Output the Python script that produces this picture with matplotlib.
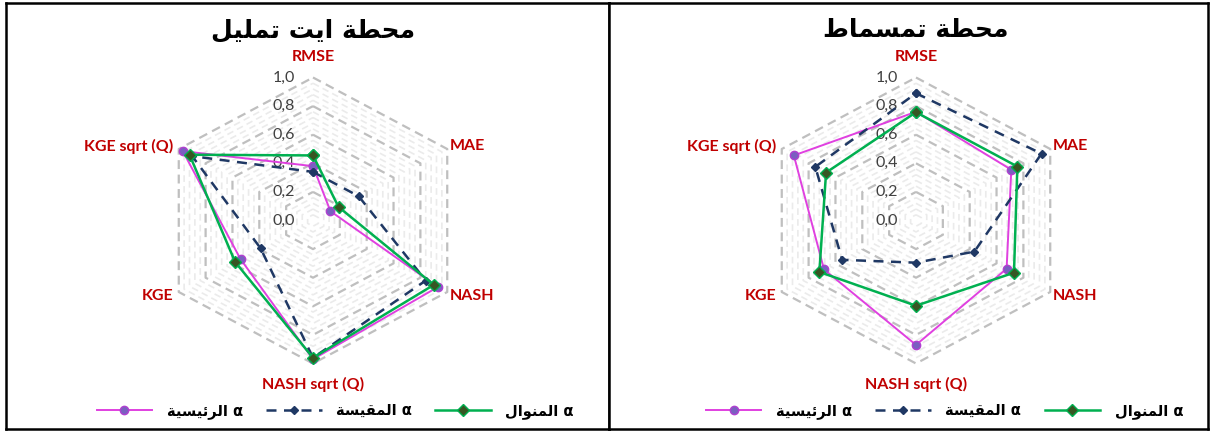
import numpy as np
import matplotlib
matplotlib.use("Agg")
import matplotlib.pyplot as plt

# === data ===
axis_labels = ["RMSE", "MAE", "NASH", "NASH sqrt (Q)", "KGE", "KGE sqrt (Q)"]
tick_values = [0.0, 0.2, 0.4, 0.6, 0.8, 1.0]
tick_labels = ["0,0", "0,2", "0,4", "0,6", "0,8", "1,0"]
series_names = ["α الرئيسية", "α المقيسة", "α المنوال"]

# محطة ايت تمليل
tamlil_main = [0.38, 0.13, 0.93, 0.97, 0.54, 0.97]
tamlil_measured = [0.34, 0.34, 0.84, 0.96, 0.39, 0.90]
tamlil_mode = [0.455, 0.19, 0.90, 0.96, 0.58, 0.92]

# محطة تمسماط
tasmat_main = [0.76, 0.71, 0.675, 0.87, 0.685, 0.91]
tasmat_measured = [0.89, 0.935, 0.435, 0.295, 0.55, 0.75]
tasmat_mode = [0.757, 0.755, 0.73, 0.596, 0.72, 0.67]

# === minimal arabic shaping (matplotlib has no bidi / joining) ===
FORMS = {  # isolated, final, initial, medial
    'ا': ('\uFE8D', '\uFE8E', None, None),
    'ة': ('\uFE93', '\uFE94', None, None),
    'ت': ('\uFE95', '\uFE96', '\uFE97', '\uFE98'),
    'ح': ('\uFEA1', '\uFEA2', '\uFEA3', '\uFEA4'),
    'ر': ('\uFEAD', '\uFEAE', None, None),
    'س': ('\uFEB1', '\uFEB2', '\uFEB3', '\uFEB4'),
    'ط': ('\uFEC1', '\uFEC2', '\uFEC3', '\uFEC4'),
    'ق': ('\uFED5', '\uFED6', '\uFED7', '\uFED8'),
    'ل': ('\uFEDD', '\uFEDE', '\uFEDF', '\uFEE0'),
    'م': ('\uFEE1', '\uFEE2', '\uFEE3', '\uFEE4'),
    'ن': ('\uFEE5', '\uFEE6', '\uFEE7', '\uFEE8'),
    'و': ('\uFEED', '\uFEEE', None, None),
    'ي': ('\uFEF1', '\uFEF2', '\uFEF3', '\uFEF4'),
    'ئ': ('\uFE89', '\uFE8A', '\uFE8B', '\uFE8C'),
}


def shape(text):
    out = []
    for i, ch in enumerate(text):
        if ch not in FORMS:
            out.append(ch)
            continue
        prev = text[i - 1] if i > 0 else ''
        nxt = text[i + 1] if i + 1 < len(text) else ''
        jp = prev in FORMS and FORMS[prev][2] is not None
        jn = nxt in FORMS and FORMS[ch][2] is not None
        iso, fin, ini, med = FORMS[ch]
        out.append(med if (jp and jn) else fin if jp else ini if jn else iso)
    return ''.join(out)[::-1]


W, H = 1213, 434
RH, RV = 155.0, 143.0  # pixels per unit radius (horizontal / vertical)
fig = plt.figure(figsize=(W / 100, H / 100), dpi=100)

styles = [
    dict(color='#E040E0', lw=1.4, marker='o', ms=6, mfc='#7A5FC0', mec='#B040D0', mew=1.0),
    dict(color='#1F3864', lw=1.8, ls=(0, (4, 3)), marker='D', ms=4, mfc='#1F3864', mec='#1F3864'),
    dict(color='#00B050', lw=1.8, marker='D', ms=6.5, mfc='#375623', mec='#00B050', mew=1.0),
]

theta = np.arange(6) * np.pi / 3


def radar_panel(x0, x1, cx, cy, title, series, leg_x):
    ax = fig.add_axes([x0 / W, (H - 429) / H, (x1 - x0) / W, (429 - 3) / H])
    ax.set_xlim((x0 - cx) / RH, (x1 - cx) / RH)
    ax.set_ylim(-(429 - cy) / RV, (cy - 3) / RV)
    ax.set_xticks([])
    ax.set_yticks([])
    for s in ax.spines.values():
        s.set_linewidth(1.8)
        s.set_color('black')

    # grid rings: minor every 0.04, major every 0.2
    tt = np.append(theta, theta[0])
    for k in range(1, 26):
        r = k * 0.04
        major = k % 5 == 0
        ax.plot(r * np.sin(tt), r * np.cos(tt),
                color='#BFBFBF' if major else '#EBEBEB',
                lw=1.6 if major else 1.2, ls=(0, (4, 2.5)), zorder=1)

    for v, lab in zip(tick_values, tick_labels):
        ax.text(-0.19, v, lab, ha='center', va='center', fontsize=11.5,
                color='#404040', family='Lato', zorder=2)

    # axis names
    red = '#C00000'
    kw = dict(fontsize=11.5, color=red, fontweight='bold', family='Lato')
    ax.text(0, 1.145, axis_labels[0], ha='center', va='center', **kw)
    ax.text(0.88, 0.52, axis_labels[1], ha='left', va='center', **kw)
    ax.text(0.88, -0.53, axis_labels[2], ha='left', va='center', **kw)
    ax.text(0, -1.145, axis_labels[3], ha='center', va='center', **kw)
    ax.text(-0.9, -0.53, axis_labels[4], ha='right', va='center', **kw)
    ax.text(-0.9, 0.52, axis_labels[5], ha='right', va='center', **kw)

    for vals, name, st in zip(series, series_names, styles):
        v = np.append(vals, vals[0])
        ax.plot(v * np.sin(tt), v * np.cos(tt), label=shape(name), zorder=3, **st)

    ax.text(0, 1.33, shape(title), ha='center', va='center', fontsize=18,
            fontweight='bold', family='DejaVu Sans')

    ax.legend(loc='center', bbox_to_anchor=(leg_x, 0.042), ncol=3, frameon=False,
              handlelength=3.8, columnspacing=1.6, handletextpad=1.0,
              prop={'family': 'DejaVu Sans', 'weight': 'bold', 'size': 10.5})
    return ax


radar_panel(6, 609, 313, 220.5, "محطة ايت تمليل",
            [tamlil_main, tamlil_measured, tamlil_mode], 0.546)
radar_panel(609, 1208, 916, 220.5, "محطة تمسماط",
            [tasmat_main, tasmat_measured, tasmat_mode], 0.56)

fig.savefig('out.png', dpi=100)
